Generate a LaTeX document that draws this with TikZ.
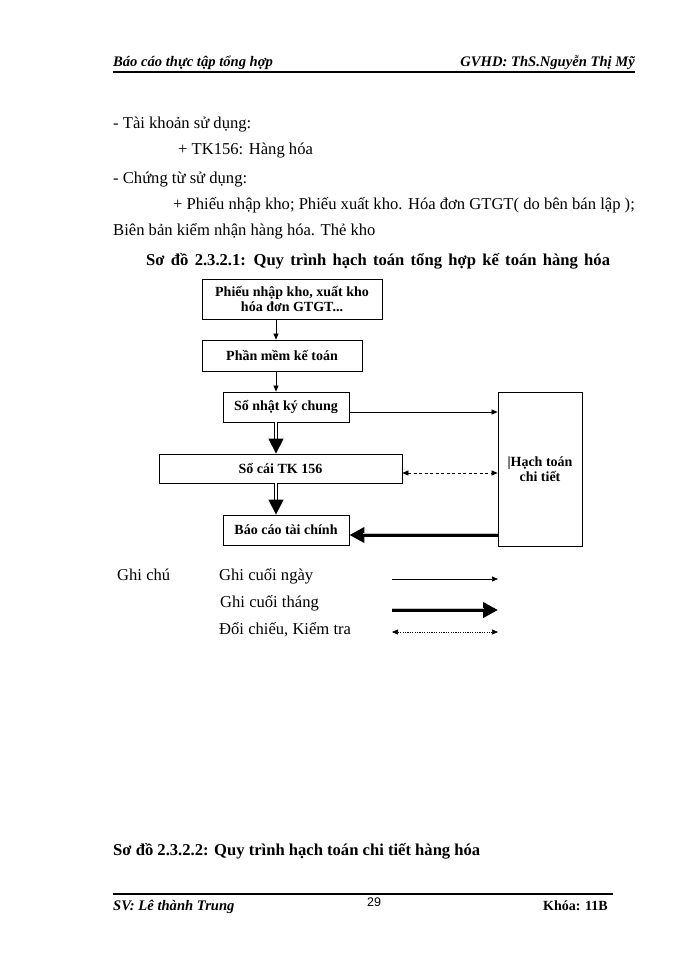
\documentclass[tikz,border=0pt]{standalone}
\usepackage{fontspec}
\setmainfont{Liberation Serif}
\newfontfamily\arialfont{Liberation Sans}
\usetikzlibrary{arrows.meta}
\begin{document}
\begin{tikzpicture}[x=1pt,y=-1pt,
  txt/.style={inner sep=0pt, font=\fontsize{16.6}{19}\selectfont},
  btxt/.style={inner sep=0pt, font=\bfseries\fontsize{16.6}{19}\selectfont},
  hdr/.style={inner sep=0pt, font=\bfseries\itshape\fontsize{14.6}{17}\selectfont},
  boxn/.style={draw, line width=0.8pt, inner sep=0pt, align=center,
    font=\bfseries\fontsize{14}{15.5}\selectfont},
  thinarrow/.style={line width=0.7pt, -{Triangle[length=6pt,width=5pt]}},
  thickarrow/.style={line width=1.2pt, double=white, double distance=2.4pt,
    -{Triangle[length=15pt,width=15pt]}},
  heavyarrow/.style={line width=4.5pt, -{Triangle[length=15pt,width=15pt]},
    postaction={draw=gray!50, line width=1.6pt, -, shorten >=14pt,
      transform canvas={yshift=1.5pt}}},
  dasharrow/.style={line width=0.7pt, dash pattern=on 3pt off 2.5pt,
    {Triangle[length=6pt,width=5pt]}-{Triangle[length=6pt,width=5pt]}},
  dotarrow/.style={line width=0.6pt, dash pattern=on 1.2pt off 1.2pt,
    {Triangle[length=6pt,width=5pt]}-{Triangle[length=6pt,width=5pt]}}
]
\useasboundingbox (0,0) rectangle (700,960);
\fill[white] (0,0) rectangle (700,960);

% header
\node[hdr, anchor=base west] (h1) at (113,67) {Báo cáo thực tập tổng hợp};
\node[hdr, anchor=base east] (h2) at (635,67) {GVHD: ThS.Nguyễn Thị Mỹ};
\coordinate (hl1) at (113,72);
\coordinate (hl2) at (635,72);
\draw[line width=1.5pt] (hl1) -- (hl2);

% body text
\node[txt, anchor=base west] (t1) at (113,129) {- Tài khoản sử dụng:};
\node[txt, anchor=base west] (t2) at (178,155) {+ TK156: Hàng hóa};
\node[txt, anchor=base west] (t3) at (113,183) {- Chứng từ sử dụng:};
\node[txt, anchor=base west] (t4) at (173,209) {+ Phiếu nhập kho; Phiếu xuất kho. Hóa đơn GTGT( do bên bán lập );};
\node[txt, anchor=base west] (t5) at (113,235) {Biên bản kiểm nhận hàng hóa. Thẻ kho};
\node[btxt, anchor=base west] (cap1) at (146,265) {\spaceskip=6.3pt plus 1pt\relax Sơ đồ 2.3.2.1: Quy trình hạch toán tổng hợp kế toán hàng hóa};

% boxes
\node[boxn, minimum width=180pt, minimum height=40pt] (b1) at (292,299) {Phiếu nhập kho, xuất kho\\hóa đơn GTGT...};
\node[boxn, minimum width=160pt, minimum height=31pt] (b2) at (282,355.5) {Phần mềm kế toán};
\node[boxn, minimum width=126pt, minimum height=30pt] (b3) at (286,407) {Sổ nhật ký chung};
\node[boxn, minimum width=243pt, minimum height=29pt] (b4) at (280.5,468.5) {Sổ cái TK 156};
\node[boxn, minimum width=126pt, minimum height=30pt] (b5) at (286,530) {Báo cáo tài chính};
\node[boxn, minimum width=84pt, minimum height=154pt] (b6) at (540,469) {|Hạch toán\\chi tiết};

% connectors
\coordinate (ax) at (276,0);
\coordinate (y1) at (0,412);
\coordinate (y2) at (0,473);
\coordinate (y3) at (0,535);
\draw[thinarrow] (b1.south -| ax) -- (b2.north -| ax);
\draw[thinarrow] (b2.south -| ax) -- (b3.north -| ax);
\draw[thickarrow] (b3.south -| ax) -- (b4.north -| ax);
\draw[thickarrow] (b4.south -| ax) -- (b5.north -| ax);
\draw[thinarrow] (b3.east |- y1) -- (b6.west |- y1);
\draw[dasharrow] (b4.east |- y2) -- (b6.west |- y2);
\draw[heavyarrow] (b6.west |- y3) -- (b5.east |- y3);

% legend
\node[txt, anchor=base west] (g0) at (117,580) {Ghi chú};
\node[txt, anchor=base west] (g1) at (219,580) {Ghi cuối ngày};
\node[txt, anchor=base west] (g2) at (220,607) {Ghi cuối tháng};
\node[txt, anchor=base west] (g3) at (219,634) {Đối chiếu, Kiểm tra};
\coordinate (l1a) at (392,579);
\coordinate (l1b) at (498,579);
\coordinate (l2a) at (392,610);
\coordinate (l2b) at (498,610);
\coordinate (l3a) at (392,632);
\coordinate (l3b) at (498,632);
\draw[thinarrow] (l1a) -- (l1b);
\draw[heavyarrow] (l2a) -- (l2b);
\draw[dotarrow] (l3a) -- (l3b);

% second caption
\node[btxt, anchor=base west] (cap2) at (113,855) {Sơ đồ 2.3.2.2: Quy trình hạch toán chi tiết hàng hóa};

% footer
\coordinate (fl1) at (113,894);
\coordinate (fl2) at (613,894);
\draw[line width=1.2pt] (fl1) -- (fl2);
\node[hdr, anchor=base west] (f1) at (113,910) {SV: Lê thành Trung};
\node[inner sep=0pt, anchor=base, font=\arialfont\fontsize{12.5}{14}\selectfont] (f2) at (374,906) {29};
\node[inner sep=0pt, anchor=base east, font=\bfseries\fontsize{14}{17}\selectfont] (f3) at (608,910) {Khóa: 11B};
\end{tikzpicture}
\end{document}
